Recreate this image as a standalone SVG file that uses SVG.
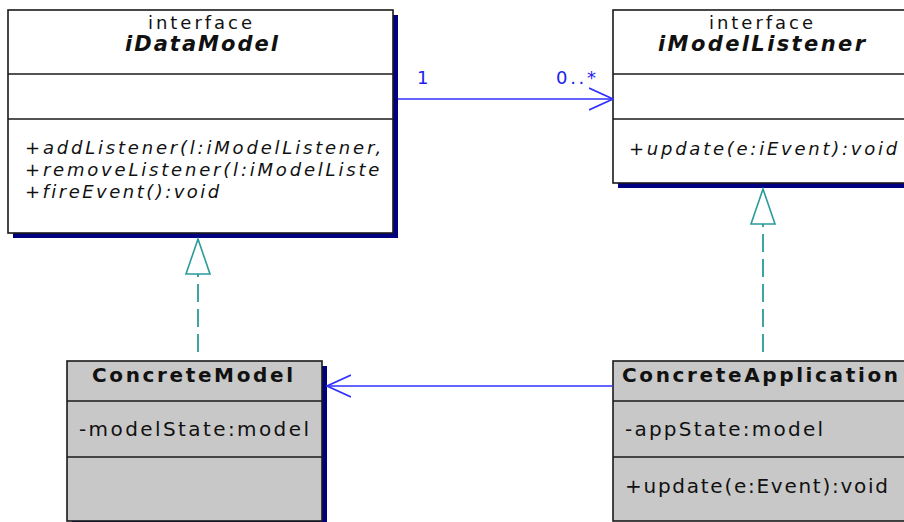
<svg xmlns="http://www.w3.org/2000/svg" width="904" height="522" viewBox="0 0 904 522">
<style>
text{font-family:"DejaVu Sans","Liberation Sans",sans-serif;fill:#111}
.box{fill:#fff;stroke:#1a1a1a;stroke-width:1.6}
.cbox{fill:#c8c8c8;stroke:#1a1a1a;stroke-width:1.6}
.div{stroke:#1a1a1a;stroke-width:1.6}
.shadow{fill:#000080}
.st{font-size:18px}
.title{font-size:21px;font-weight:bold;font-style:italic}
.ctitle{font-size:20px;font-weight:bold}
.op{font-size:18px;font-style:italic;letter-spacing:2.8px}
.attr{font-size:20px}
.mult{font-size:18px;fill:#2020f0}
.assoc{stroke:#3030ff;stroke-width:1.6;fill:none}
.real{stroke:#2a9a9a;stroke-width:1.8;fill:none;stroke-dasharray:18 7}
</style>
<defs>
<marker id="open" markerUnits="userSpaceOnUse" viewBox="0 0 25 24" refX="24" refY="12" markerWidth="25" markerHeight="24" orient="auto">
<path d="M0,1 L24,12 L0,23" fill="none" stroke="#3030ff" stroke-width="1.6"/>
</marker>
<marker id="tri" markerUnits="userSpaceOnUse" viewBox="0 0 38 28" refX="36" refY="14" markerWidth="38" markerHeight="28" orient="auto">
<path d="M1,2 L36,14 L1,26 Z" fill="#fff" stroke="#2a9a9a" stroke-width="1.6" stroke-dasharray="none"/>
</marker>
<clipPath id="clipL"><rect x="9" y="120" width="383" height="112"/></clipPath>
</defs>

<g id="iDataModel">
<rect class="shadow" x="13" y="15" width="385" height="223"/>
<rect class="box" x="8" y="10" width="385" height="223"/>
<line class="div" x1="8" y1="74" x2="393" y2="74"/>
<line class="div" x1="8" y1="119" x2="393" y2="119"/>
<text class="st" x="200" y="29" text-anchor="middle" textLength="104" lengthAdjust="spacing">interface</text>
<text class="title" x="201.5" y="51" text-anchor="middle" textLength="153" lengthAdjust="spacing">iDataModel</text>
<g clip-path="url(#clipL)">
<text class="op" x="25" y="154">+addListener(l:iModelListener,</text>
<text class="op" x="25" y="176">+removeListener(l:iModelListe</text>
<text class="op" x="25" y="198" textLength="197" lengthAdjust="spacing">+fireEvent():void</text>
</g>
</g>

<g id="iModelListener">
<rect class="shadow" x="618" y="15" width="300" height="173"/>
<rect class="box" x="613" y="10" width="300" height="173"/>
<line class="div" x1="613" y1="74" x2="913" y2="74"/>
<line class="div" x1="613" y1="119" x2="913" y2="119"/>
<text class="st" x="761" y="29" text-anchor="middle" textLength="104" lengthAdjust="spacing">interface</text>
<text class="title" x="761.5" y="51" text-anchor="middle" textLength="207" lengthAdjust="spacing">iModelListener</text>
<text class="op" x="629" y="155" textLength="271" lengthAdjust="spacing">+update(e:iEvent):void</text>
</g>

<g id="ConcreteModel">
<rect class="shadow" x="72" y="366" width="255" height="160"/>
<rect class="cbox" x="67" y="361" width="255" height="160"/>
<line class="div" x1="67" y1="401" x2="322" y2="401"/>
<line class="div" x1="67" y1="457" x2="322" y2="457"/>
<text class="ctitle" x="92" y="382" textLength="201" lengthAdjust="spacing">ConcreteModel</text>
<text class="attr" x="79" y="436" textLength="230" lengthAdjust="spacing">-modelState:model</text>
</g>

<g id="ConcreteApplication">
<rect class="cbox" x="613" y="361" width="300" height="160"/>
<line class="div" x1="613" y1="401" x2="913" y2="401"/>
<line class="div" x1="613" y1="457" x2="913" y2="457"/>
<text class="ctitle" x="622" y="382" textLength="276" lengthAdjust="spacing">ConcreteApplication</text>
<text class="attr" x="625" y="436" textLength="198" lengthAdjust="spacing">-appState:model</text>
<text class="attr" x="625" y="493" textLength="263" lengthAdjust="spacing">+update(e:Event):void</text>
</g>

<g id="connectors">
<line class="assoc" x1="398" y1="99" x2="613" y2="99" marker-end="url(#open)"/>
<text class="mult" x="417" y="84">1</text>
<text class="mult" x="556" y="84" textLength="40" lengthAdjust="spacing">0..*</text>
<line class="assoc" x1="613" y1="386" x2="327" y2="386" marker-end="url(#open)"/>
<line class="real" x1="198" y1="352" x2="198" y2="239" marker-end="url(#tri)"/>
<line class="real" x1="763" y1="352" x2="763" y2="189" marker-end="url(#tri)"/>
</g>
</svg>
